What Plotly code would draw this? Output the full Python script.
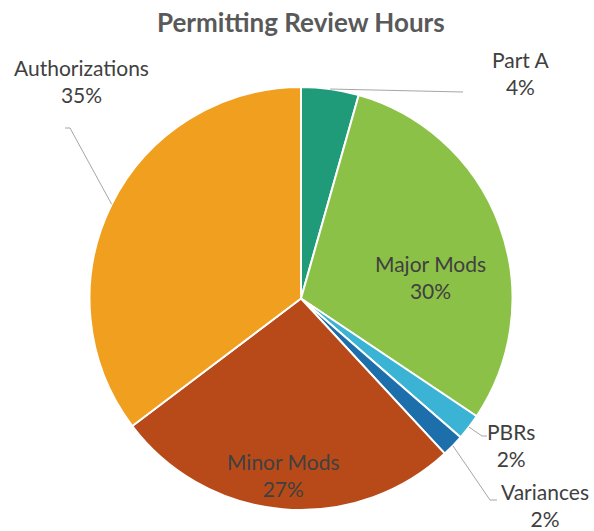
import math
import plotly.graph_objects as go

# ---- data ----
categories = ["Part A", "Major Mods", "PBRs", "Variances", "Minor Mods", "Authorizations"]
values = [4.4, 30.0, 2.0, 1.7, 26.6, 35.3]
colors = ["#1F9B7A", "#8CC147", "#3BB3D4", "#1D6FAB", "#B84A19", "#F09F1E"]
title_text = "Permitting Review Hours"

W, H = 594, 531
CX, CY, R = 301, 298.5, 211.5  # pie centre / radius in pixels

# label placement (pixel centre of two-line label) and leader-line elbows
label_pos = {
    "Part A": (521, 73),
    "Major Mods": (430, 277),
    "PBRs": (511, 445),
    "Variances": (545, 505),
    "Minor Mods": (283, 475),
    "Authorizations": (81, 81),
}
leader = {
    "Part A": [(463, 92)],
    "PBRs": [(482, 436), (487, 436)],
    "Variances": [(490, 500), (497, 500)],
    "Authorizations": [(70, 128), (65, 128)],
}

def px(x):
    return x / W

def py(y):
    return 1 - y / H

fig = go.Figure(go.Pie(
    labels=categories,
    values=values,
    sort=False,
    direction="clockwise",
    rotation=0,
    marker=dict(colors=colors, line=dict(color="white", width=2)),
    textinfo="none",
    hoverinfo="label+percent",
    domain=dict(x=[px(CX - R), px(CX + R)], y=[py(CY + R), py(CY - R)]),
    showlegend=False,
))

total = sum(values)
annotations = []
shapes = []
cum = 0.0
for cat, v in zip(categories, values):
    pct = v / total
    mid = (cum + pct / 2) * 2 * math.pi
    cum += pct
    lx, ly = label_pos[cat]
    annotations.append(dict(
        x=px(lx), y=py(ly), xref="paper", yref="paper",
        text=f"{cat}<br>{round(pct * 100)}%",
        showarrow=False, xanchor="center", yanchor="middle", align="center",
        font=dict(family="Lato, Calibri, sans-serif", size=21, color="#404040"),
    ))
    if cat in leader:
        sx = CX + R * math.sin(mid)
        sy = CY - R * math.cos(mid)
        pts = [(sx, sy)] + leader[cat]
        path = "M " + " L ".join(f"{px(a)},{py(b)}" for a, b in pts)
        shapes.append(dict(type="path", xref="paper", yref="paper", path=path,
                           line=dict(color="#A6A6A6", width=1)))

annotations.append(dict(
    x=px(CX), y=py(22), xref="paper", yref="paper",
    text=f"<b>{title_text}</b>", showarrow=False,
    xanchor="center", yanchor="middle",
    font=dict(family="Lato, Calibri, sans-serif", size=26, color="#595959"),
))

fig.update_layout(
    width=W, height=H,
    margin=dict(l=0, r=0, t=0, b=0),
    paper_bgcolor="white", plot_bgcolor="white",
    annotations=annotations, shapes=shapes,
)

fig.write_html("out.html", config={"displayModeBar": False},
               post_script="document.body.style.margin='0';")
